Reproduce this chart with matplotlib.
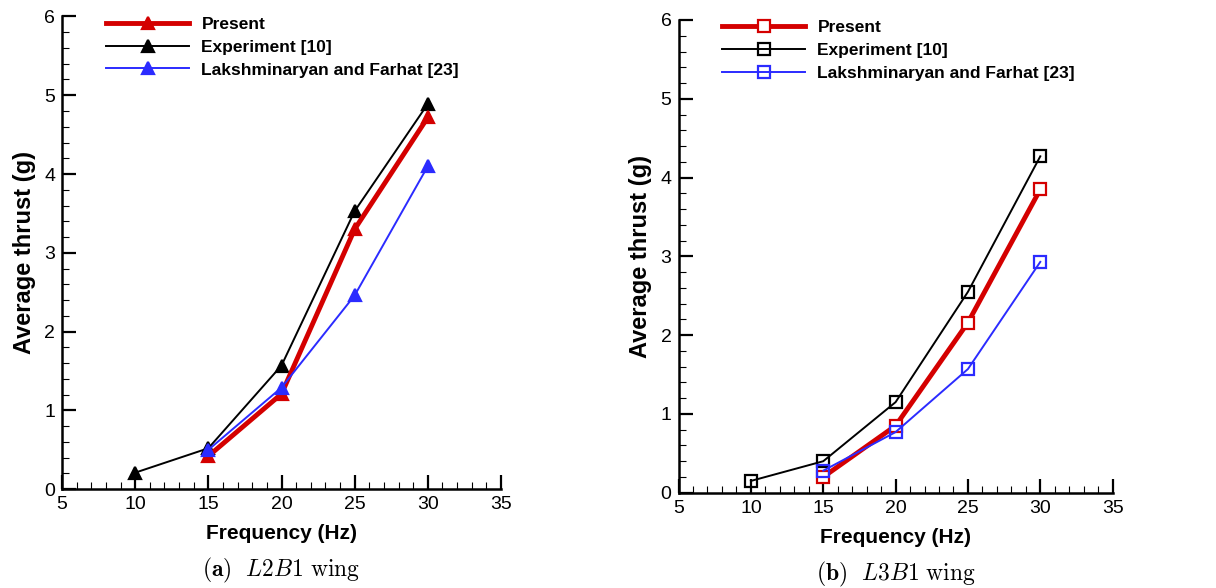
import numpy as np
import matplotlib.pyplot as plt
from matplotlib.ticker import MultipleLocator

plt.rcParams["font.family"] = ["Liberation Sans", "DejaVu Sans"]
plt.rcParams["mathtext.fontset"] = "cm"

# ---------------- data ----------------
freq_exp = [10, 15, 20, 25, 30]
freq_num = [15, 20, 25, 30]

# (a) L2B1 wing
l2_present = [0.42, 1.21, 3.30, 4.72]
l2_exp = [0.21, 0.52, 1.57, 3.53, 4.89]
l2_lf = [0.50, 1.29, 2.46, 4.10]

# (b) L3B1 wing
l3_present = [0.20, 0.85, 2.16, 3.85]
l3_exp = [0.15, 0.40, 1.15, 2.55, 4.27]
l3_lf = [0.28, 0.77, 1.57, 2.93]

labels = ["Present", "Experiment [10]", "Lakshminaryan and Farhat [23]"]
captions = [r"$\mathbf{(a)}\ \ L2B1\ \mathrm{wing}$", r"$\mathbf{(b)}\ \ L3B1\ \mathrm{wing}$"]

RED = "#d40000"
BLUE = "#2b2bff"

fig = plt.figure(figsize=(12.16, 5.88), dpi=100)
ax1 = fig.add_axes([0.051, 0.168, 0.361, 0.804])
ax2 = fig.add_axes([0.558, 0.162, 0.357, 0.804])


def draw_panel(ax, present, exp, lf, marker, hollow, caption):
    ms = 9
    ax.plot(freq_num, present, color=RED, lw=3.5, marker=marker, ms=ms,
            mfc=("white" if hollow else RED), mec=RED, mew=1.6, label=labels[0], zorder=3)
    ax.plot(freq_exp, exp, color="black", lw=1.4, marker=marker, ms=ms,
            mfc=("none" if hollow else "black"), mec="black", mew=1.6, label=labels[1], zorder=2)
    ax.plot(freq_num, lf, color=BLUE, lw=1.4, marker=marker, ms=ms,
            mfc=("none" if hollow else BLUE), mec=BLUE, mew=1.6, label=labels[2], zorder=4)

    ax.set_xlim(5, 35)
    ax.set_ylim(0, 6)
    ax.xaxis.set_major_locator(MultipleLocator(5))
    ax.xaxis.set_minor_locator(MultipleLocator(1))
    ax.yaxis.set_major_locator(MultipleLocator(1))
    ax.yaxis.set_minor_locator(MultipleLocator(0.2))
    ax.tick_params(which="major", direction="in", length=10, width=1.6, labelsize=14, pad=5)
    ax.tick_params(which="minor", direction="in", length=5, width=0.8)
    for s in ["top", "right"]:
        ax.spines[s].set_visible(False)
    for s in ["left", "bottom"]:
        ax.spines[s].set_linewidth(1.8)

    ax.set_xlabel("Frequency (Hz)", fontsize=15, fontweight="bold", labelpad=8)
    ax.set_ylabel("Average thrust (g)", fontsize=17, fontweight="bold", labelpad=6)

    ax.legend(loc="upper left", bbox_to_anchor=(0.10, 1.0), frameon=False,
              prop={"weight": "bold", "size": 12.5}, handlelength=4.8,
              handletextpad=0.7, labelspacing=0.45, borderaxespad=0, borderpad=0)

    ax.text(0.5, -0.172, caption, transform=ax.transAxes, ha="center", va="center",
            fontsize=17)


draw_panel(ax1, l2_present, l2_exp, l2_lf, "^", False, captions[0])
draw_panel(ax2, l3_present, l3_exp, l3_lf, "s", True, captions[1])

fig.savefig("out.png", dpi=100)
